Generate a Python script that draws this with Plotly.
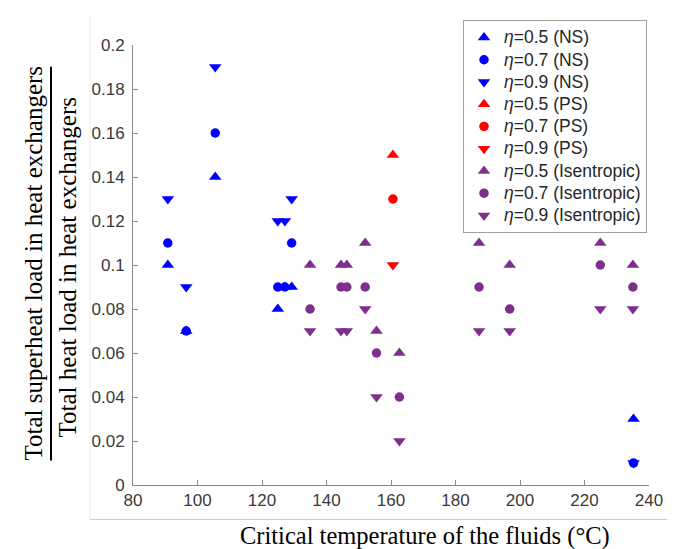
import plotly.graph_objects as go

# ---------------- data ----------------
ns_x = [90.8, 96.5, 105.5, 124.9, 127.1, 129.2, 235.2]
ns_eta05 = [0.10, 0.07, 0.14, 0.08, 0.09, 0.09, 0.03]
ns_eta07 = [0.11, 0.07, 0.16, 0.09, 0.09, 0.11, 0.01]
ns_eta09 = [0.13, 0.09, 0.19, 0.12, 0.12, 0.13, 0.01]

ps_x = [160.6]
ps_eta05 = [0.15]
ps_eta07 = [0.13]
ps_eta09 = [0.10]

is_x = [134.9, 144.5, 146.3, 152.0, 155.5, 162.6, 187.3, 196.8, 224.9, 235.0]
is_eta05 = [0.10, 0.10, 0.10, 0.11, 0.07, 0.06, 0.11, 0.10, 0.11, 0.10]
is_eta07 = [0.08, 0.09, 0.09, 0.09, 0.06, 0.04, 0.09, 0.08, 0.10, 0.09]
is_eta09 = [0.07, 0.07, 0.07, 0.08, 0.04, 0.02, 0.07, 0.07, 0.08, 0.08]

x_ticks = [80, 100, 120, 140, 160, 180, 200, 220, 240]
y_ticks = [0, 0.02, 0.04, 0.06, 0.08, 0.1, 0.12, 0.14, 0.16, 0.18, 0.2]
y_ticktext = ["0", "0.02", "0.04", "0.06", "0.08", "0.1", "0.12", "0.14", "0.16", "0.18", "0.2"]

# ---------------- layout helpers ----------------
W, H = 675, 549
L, R, T, B = 125, 641, 30, 477


def px(xp):
    return (xp - L) / (R - L)


def py(yp):
    return (B - yp) / (B - T)


BLUE = "#0000FF"
RED = "#FF0000"
PURPLE = "#7E2F8E"


def lab(s):
    return '<span style="font-size:17.5px"><i>η</i>=' + s + '</span>'


series = [
    (ns_x, ns_eta05, BLUE, "triangle-up", lab("0.5 (NS)")),
    (ns_x, ns_eta07, BLUE, "circle", lab("0.7 (NS)")),
    (ns_x, ns_eta09, BLUE, "triangle-down", lab("0.9 (NS)")),
    (ps_x, ps_eta05, RED, "triangle-up", lab("0.5 (PS)")),
    (ps_x, ps_eta07, RED, "circle", lab("0.7 (PS)")),
    (ps_x, ps_eta09, RED, "triangle-down", lab("0.9 (PS)")),
    (is_x, is_eta05, PURPLE, "triangle-up", lab("0.5 (Isentropic)")),
    (is_x, is_eta07, PURPLE, "circle", lab("0.7 (Isentropic)")),
    (is_x, is_eta09, PURPLE, "triangle-down", lab("0.9 (Isentropic)")),
]

fig = go.Figure()
for xs, ys, col, sym, name in series:
    fig.add_trace(go.Scatter(
        x=xs, y=ys, mode="markers", name=name,
        marker=dict(symbol=sym, color=col, size=9.5 if sym == "circle" else 11,
                    line=dict(width=0)),
        cliponaxis=False,
    ))

axis_col = "#8a8a8a"
tick_font = dict(family="Liberation Sans, Arial, sans-serif", size=17, color="#3a3a3a")

fig.update_layout(
    width=W, height=H,
    margin=dict(l=L, r=W - R, t=T, b=H - B),
    paper_bgcolor="white", plot_bgcolor="white",
    showlegend=True,
    legend=dict(
        x=px(455), y=py(5), xanchor="left", yanchor="top",
        bgcolor="white", bordercolor="#a0a0a0", borderwidth=1,
        font=dict(family="Liberation Sans, Arial, sans-serif", size=14.8, color="#262626"),
        tracegroupgap=0,
    ),
    xaxis=dict(
        range=[80, 240], tickvals=x_ticks, ticktext=[str(v) for v in x_ticks],
        showline=True, linecolor=axis_col, linewidth=1, mirror=False,
        ticks="inside", ticklen=5, tickcolor=axis_col,
        showgrid=False, zeroline=False, tickfont=tick_font,
    ),
    yaxis=dict(
        range=[0, 0.2], tickvals=y_ticks, ticktext=y_ticktext,
        showline=True, linecolor=axis_col, linewidth=1, mirror=False,
        ticks="inside", ticklen=5, tickcolor=axis_col, ticklabelstandoff=4,
        showgrid=False, zeroline=False, tickfont=tick_font,
    ),
)

serif = "Liberation Serif, Times New Roman, serif"
annotations = [
    dict(text="Total superheat load in heat exchangers", x=px(26), y=py(252),
         textangle=-90, size=25),
    dict(text="Total heat load in heat exchangers", x=px(59), y=py(256),
         textangle=-90, size=25),
    dict(text="Critical temperature of the fluids (°C)", x=px(417), y=py(529),
         textangle=0, size=24.5),
]
for a in annotations:
    fig.add_annotation(
        text=a["text"], x=a["x"], y=a["y"], xref="paper", yref="paper",
        xanchor="center", yanchor="middle", textangle=a["textangle"],
        showarrow=False, font=dict(family=serif, size=a["size"], color="black"),
    )

# fraction bar
fig.add_shape(type="line", xref="paper", yref="paper",
              x0=px(43), x1=px(43), y0=py(52), y1=py(452),
              line=dict(color="black", width=2))
# light frame lines of the embedded picture
fig.add_shape(type="line", xref="paper", yref="paper",
              x0=px(82), x1=px(675), y0=py(512), y1=py(512),
              line=dict(color="#c8c8c8", width=1))
fig.add_shape(type="line", xref="paper", yref="paper",
              x0=px(82), x1=px(82), y0=py(0), y1=py(512),
              line=dict(color="#ececec", width=1))

fig.write_html("out.html")
